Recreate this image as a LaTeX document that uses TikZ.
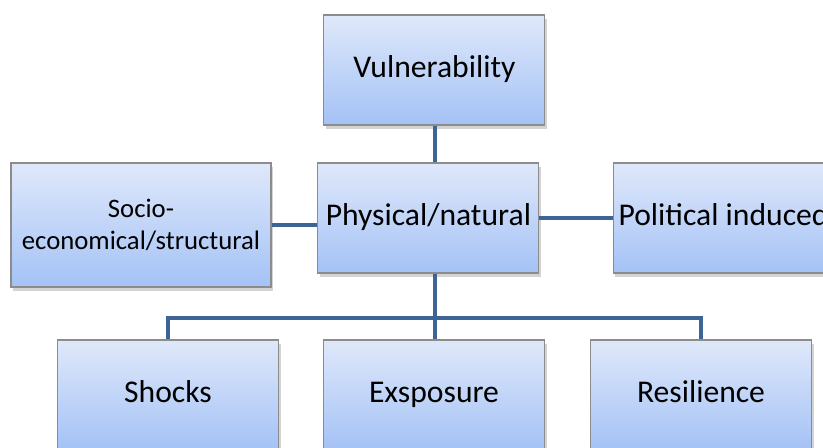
\documentclass[tikz,border=0pt]{standalone}
\usepackage{fontspec}
\setmainfont{Carlito}
\usepackage{tikz}
\usetikzlibrary{shadows}
\definecolor{boxTop}{RGB}{223,232,250}
\definecolor{boxBottom}{RGB}{164,194,246}
\definecolor{boxLine}{RGB}{140,140,140}
\definecolor{linkBlue}{RGB}{62,100,150}
\tikzset{
  every picture/.style={font={\fontsize{22.5}{27}\selectfont}}}

\begin{document}
\begin{tikzpicture}[
    riskBox/.style={
      draw=boxLine, line width=0.8pt,
      top color=boxTop, bottom color=boxBottom,
      align=center,
      minimum width=5.525cm,
      minimum height=2.75cm,
      drop shadow={shadow xshift=1.5pt, shadow yshift=-2.5pt, opacity=0.35}},
    oneLine/.style={riskBox, text height=1.05em, text depth=0em},
    link/.style={draw=linkBlue, line width=3.5pt}]

    \clip (0, 0) rectangle (20.575, 11.2);

    \node[oneLine] (vuln) at (10.86, 9.45) {Vulnerability};
    \node[oneLine] (phys) at (10.71, 5.75) {Physical/natural};
    \node[riskBox, minimum width=6.5cm, minimum height=3.1cm,
          font={\fontsize{19}{22.8}\selectfont}] (socio) at (3.525, 5.575)
      {Socio-\\economical/structural};
    \node[oneLine] (polit) at (18.09, 5.75) {Political induced};

    \node[oneLine] (shocks) at (4.2, 1.325) {Shocks};
    \node[oneLine] (expo) at (10.85, 1.325) {Exsposure};
    \node[oneLine] (resil) at (17.525, 1.325) {Resilience};

    % links
    \coordinate (bar) at (10.875, 3.25);
    \path[link] (vuln.south -| bar) -- (phys.north -| bar);
    \path[link] (socio.east) -- (socio.east -| phys.west);
    \path[link] (phys.east) -- (polit.west);
    \path[link] (phys.south -| bar) -- (bar);
    \path[link] (shocks.north) |- (bar) -| (resil.north);
    \path[link] (bar) -- (expo.north -| bar);
  \end{tikzpicture}
\end{document}
